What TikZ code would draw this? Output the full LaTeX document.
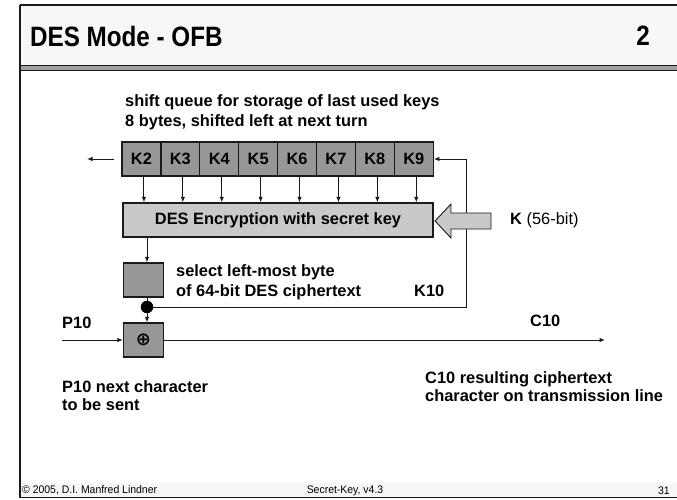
\documentclass[tikz,border=0pt]{standalone}
\usepackage{fontspec}
\setmainfont{Liberation Sans}
\newfontfamily\titlefont[FakeStretch=0.865]{Liberation Sans}
\newfontfamily\footfont[FakeStretch=0.95]{Liberation Sans}
\newfontfamily\symfont{DejaVu Sans}
\usetikzlibrary{arrows.meta}

\definecolor{bandbg}{HTML}{F7F7F7}
\definecolor{rulegray}{HTML}{A0A0A0}
\definecolor{regfill}{HTML}{979797}
\definecolor{desfill}{HTML}{C9C9C9}
\definecolor{inkc}{HTML}{1A1A1A}

\tikzset{
  bodyfont/.style={font=\bfseries\fontsize{16.4}{20}\selectfont},
  regbox/.style={draw=inkc, line width=1.3pt, fill=regfill, inner sep=0pt,
    minimum width=38.9pt, minimum height=34pt, bodyfont},
  desbox/.style={draw=inkc, line width=1.3pt, fill=desfill, inner sep=0pt,
    minimum width=310pt, minimum height=34pt, bodyfont},
  smallbox/.style={draw=inkc, line width=1.3pt, fill=regfill, inner sep=0pt,
    minimum width=40pt, minimum height=34pt},
  txt/.style={bodyfont, inner sep=0pt, align=left, anchor=west},
  flow/.style={draw=inkc, line width=1pt},
  arr/.style={flow, -{Latex[length=5.5pt,width=4.5pt]}},
  foot/.style={font=\footfont\fontsize{11}{12}\selectfont, inner sep=0pt}
}

\begin{document}
\begin{tikzpicture}[x=1pt,y=-1pt]
\useasboundingbox (0,0) rectangle (677,500);

% slide frame: title band, rules and footer band
\fill[bandbg] (20,5) rectangle (677,65);
\fill[rulegray] (20,65) rectangle (677,70);
\draw[inkc, line width=0.8pt] (20,65) -- (677,65);
\draw[inkc, line width=0.8pt] (20,70) -- (677,70);
\fill[bandbg] (20,483) rectangle (677,497);
\draw[inkc, line width=1.5pt] (20,5) -- (677,5);
\draw[inkc, line width=1.5pt] (20,5) -- (20,498);
\draw[inkc, line width=1.5pt] (20,497.5) -- (677,497.5);

\node[anchor=west, inner sep=0pt, font=\titlefont\bfseries\fontsize{28}{30}\selectfont]
  (title) at (30,36) {DES Mode - OFB};
\node[anchor=east, inner sep=0pt, font=\titlefont\bfseries\fontsize{28}{30}\selectfont]
  (pageno) at (650,36) {2};

\node[foot, anchor=west] (copy) at (22,490.5) {© 2005, D.I. Manfred Lindner};
\node[foot] (course) at (345,490.5) {Secret-Key, v4.3};
\node[foot, anchor=east] (slide) at (670,490.5) {31};

% shift register K2..K9
\node[txt] (qnote) at (125,112.5) {shift queue for storage of last used keys\\8 bytes, shifted left at next turn};
\foreach \i in {2,...,9}
  \node[regbox] (q\i) at ({122+38.9*(\i-2)+19.45},159) {K\i};

% DES block and key input
\node[desbox] (des) at (278,220) {DES Encryption with secret key};
\foreach \i in {2,...,9}
  \draw[arr] ([xshift=2.5pt]q\i.south) -- ([xshift=2.5pt]q\i.south |- des.north);

\coordinate (qout) at (87,159);
\draw[arr] ([xshift=-7pt]q2.west) -- (qout);

% byte selection, tap point and XOR
\node[smallbox] (sel) at (143.5,280) {};
\node[circle, fill=black, inner sep=0pt, minimum size=12.5pt] (tap) at (147,307) {};
\node[smallbox] (xor) at (143.5,340) {\symfont\bfseries\fontsize{18}{18}\selectfont ⊕};

\draw[arr] (des.south -| tap) -- (sel.north -| tap);
\draw[flow] (sel.south -| tap) -- (tap);
\draw[arr] (tap) -- (xor.north -| tap);

% feedback of the selected byte into the queue
\coordinate (fbx) at (466,0);
\draw[arr] (tap) -- (tap -| fbx) -- (fbx |- q9.east) -- (q9.east);

% key arrow
\draw[inkc, line width=0.9pt, fill=desfill]
  (435,221) -- (451,204) -- (451,213) -- (491,213) -- (491,229)
  -- (451,229) -- (451,238) -- cycle;
\node[txt, font=\fontsize{16.4}{20}\selectfont] (klabel) at (510,220) {\textbf{K} (56-bit)};

\node[txt] (seltxt) at (176,282) {select left-most byte\\of 64-bit DES ciphertext};
\node[txt] (k10) at (414,291) {K10};

% plaintext in, ciphertext out
\coordinate (pin) at (62,340);
\coordinate (cout) at (605,340);
\draw[arr] (pin) -- (xor.west);
\draw[arr] (xor.east) -- (cout);
\node[txt] (plab) at (62,323) {P10};
\node[txt] (clab) at (530,321) {C10};

\node[txt, font=\bfseries\fontsize{16.4}{18.5}\selectfont] (pnote) at (62,395.5) {P10 next character\\to be sent};
\node[txt, font=\bfseries\fontsize{16.4}{18.5}\selectfont] (cnote) at (425,386.5) {C10 resulting ciphertext\\character on transmission line};
\end{tikzpicture}
\end{document}
